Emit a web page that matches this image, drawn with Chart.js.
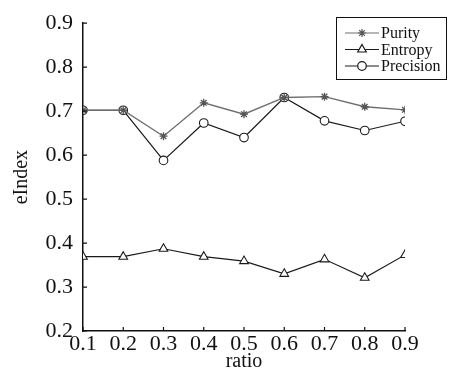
<!DOCTYPE html>
<html lang="en">

<head>
  <meta charset="UTF-8">
  <title>eIndex vs ratio</title>
  <style>
    body {
      margin: 0;
      background-color: #ffffff;
    }

    .chart-box {
      width: 456px;
      height: 372px;
    }
  </style>
  <script src="https://cdn.jsdelivr.net/npm/chart.js"></script>
</head>

<body>
  <div class="chart-box">
    <canvas id="indexChart" width="456" height="372"></canvas>
  </div>

  <script>
    // values
    const ratios = [0.1, 0.2, 0.3, 0.4, 0.5, 0.6, 0.7, 0.8, 0.9];
    const purity = [0.702, 0.702, 0.643, 0.719, 0.693, 0.731, 0.733, 0.710, 0.703];
    const entropy = [0.369, 0.369, 0.387, 0.369, 0.359, 0.330, 0.363, 0.321, 0.373];
    const precision = [0.702, 0.702, 0.588, 0.673, 0.640, 0.731, 0.678, 0.656, 0.677];
    const yTicks = [0.2, 0.3, 0.4, 0.5, 0.6, 0.7, 0.8, 0.9];

    const serif = "'Liberation Serif', 'Times New Roman', serif";

    function toPoints(values) {
      return ratios.map((r, i) => ({ x: r, y: values[i] }));
    }

    // inward tick marks on both axes
    const inwardTicks = {
      id: 'inwardTicks',
      afterDatasetsDraw(chart) {
        const { ctx, chartArea, scales } = chart;
        ctx.save();
        ctx.strokeStyle = '#111';
        ctx.lineWidth = 1.2;
        ctx.beginPath();
        ratios.forEach(r => {
          const x = scales.x.getPixelForValue(r);
          ctx.moveTo(x, chartArea.bottom);
          ctx.lineTo(x, chartArea.bottom - 4);
        });
        yTicks.forEach(v => {
          const y = scales.y.getPixelForValue(v);
          ctx.moveTo(chartArea.left, y);
          ctx.lineTo(chartArea.left + 4, y);
        });
        ctx.stroke();
        ctx.restore();
      }
    };

    // boxed legend with line + marker samples
    const boxLegend = {
      id: 'boxLegend',
      afterDraw(chart) {
        const ctx = chart.ctx;
        const left = 336, top = 17, w = 110, h = 62;
        ctx.save();
        ctx.fillStyle = '#fff';
        ctx.fillRect(left, top, w, h);
        ctx.strokeStyle = '#111';
        ctx.lineWidth = 1;
        ctx.strokeRect(left + 0.5, top + 0.5, w, h);
        ctx.font = '16px ' + serif;
        ctx.textBaseline = 'middle';
        chart.data.datasets.forEach((ds, i) => {
          const y = top + 16 + i * 16.5;
          ctx.strokeStyle = ds.borderColor;
          ctx.lineWidth = 1.2;
          ctx.beginPath();
          ctx.moveTo(left + 9, y);
          ctx.lineTo(left + 43, y);
          ctx.stroke();
          ctx.fillStyle = ds.pointBackgroundColor;
          ctx.strokeStyle = ds.pointBorderColor;
          Chart.helpers.drawPoint(ctx, {
            pointStyle: ds.pointStyle,
            radius: ds.pointRadius,
            borderWidth: ds.pointBorderWidth,
            rotation: 0
          }, left + 26, y);
          ctx.fillStyle = '#111';
          ctx.fillText(ds.label, left + 45, y + 1);
        });
        ctx.restore();
      }
    };

    new Chart(document.getElementById('indexChart'), {
      type: 'line',
      data: {
        datasets: [{
          label: 'Purity',
          data: toPoints(purity),
          borderColor: '#6e6e6e',
          borderWidth: 1.3,
          pointStyle: 'star',
          pointRadius: 4,
          pointBorderWidth: 1.3,
          pointBorderColor: '#555',
          pointBackgroundColor: '#555'
        }, {
          label: 'Entropy',
          data: toPoints(entropy),
          borderColor: '#1a1a1a',
          borderWidth: 1.2,
          pointStyle: 'triangle',
          pointRadius: 5,
          pointBorderWidth: 1.1,
          pointBorderColor: '#1a1a1a',
          pointBackgroundColor: '#fff'
        }, {
          label: 'Precision',
          data: toPoints(precision),
          borderColor: '#1a1a1a',
          borderWidth: 1.2,
          pointStyle: 'circle',
          pointRadius: 4.3,
          pointBorderWidth: 1.1,
          pointBorderColor: '#1a1a1a',
          pointBackgroundColor: '#fff'
        }]
      },
      options: {
        responsive: false,
        animation: false,
        layout: { padding: { left: 0, right: 51, top: 13, bottom: 0 } },
        plugins: {
          legend: { display: false },
          tooltip: { enabled: false }
        },
        scales: {
          x: {
            type: 'linear',
            min: 0.1,
            max: 0.9,
            afterFit(scale) { scale.height = 41; },
            afterBuildTicks(scale) { scale.ticks = ratios.map(v => ({ value: v })); },
            grid: { display: false, drawTicks: false },
            border: { display: true, color: '#111', width: 1.5 },
            ticks: {
              color: '#111',
              padding: 0,
              font: { family: serif, size: 22 },
              callback: v => v.toFixed(1)
            },
            title: {
              display: true,
              text: 'ratio',
              color: '#111',
              padding: 0,
              font: { family: serif, size: 20, lineHeight: 1.0 }
            }
          },
          y: {
            min: 0.2,
            max: 0.9,
            afterFit(scale) { scale.width = 83; },
            afterBuildTicks(scale) { scale.ticks = yTicks.map(v => ({ value: v })); },
            grid: { display: false, drawTicks: false },
            border: { display: true, color: '#111', width: 1.5 },
            ticks: {
              color: '#111',
              padding: 10,
              font: { family: serif, size: 22 },
              callback: v => v.toFixed(1)
            },
            title: {
              display: true,
              text: 'eIndex',
              color: '#111',
              padding: 0,
              font: { family: serif, size: 20, lineHeight: 2.2 }
            }
          }
        }
      },
      plugins: [inwardTicks, boxLegend]
    });
  </script>
</body>

</html>
